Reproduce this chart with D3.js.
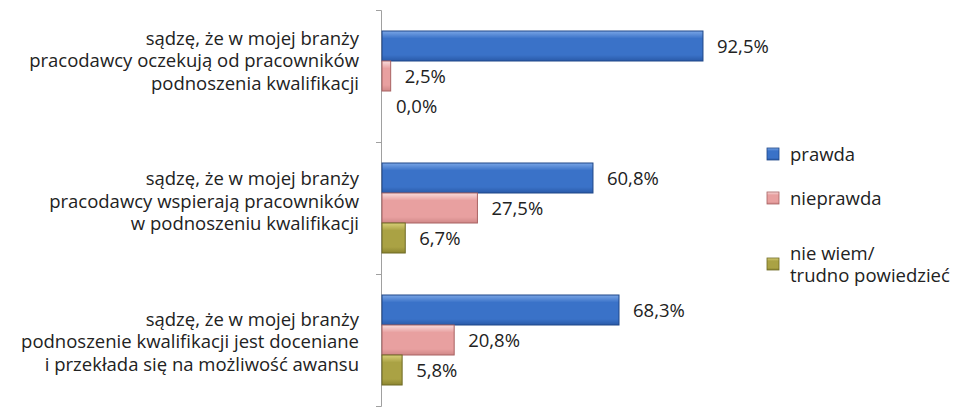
<!DOCTYPE html>
<html>
<head>
<meta charset="utf-8">
<script src="https://cdn.jsdelivr.net/npm/d3@7"></script>
<style>
  body { margin: 0; background: #fff; }
  text { font-family: "Open Sans", "Noto Sans", sans-serif; fill: #222; }
</style>
</head>
<body>
<div id="chart"></div>
<script>
// data
const categories = [
  'sądzę, że w mojej branży\npracodawcy oczekują od pracowników\npodnoszenia kwalifikacji',
  'sądzę, że w mojej branży\npracodawcy wspierają pracowników\nw podnoszeniu kwalifikacji',
  'sądzę, że w mojej branży\npodnoszenie kwalifikacji jest doceniane\ni przekłada się na możliwość awansu'
];
const seriesNames = ['prawda', 'nieprawda', 'nie wiem/\ntrudno powiedzieć'];
const prawda = [92.5, 60.8, 68.3];
const nieprawda = [2.5, 27.5, 20.8];
const nieWiem = [0.0, 6.7, 5.8];

document.addEventListener('DOMContentLoaded', function(){
  drawChart();
});

function drawChart() {
  const svg = d3.select('#chart').append('svg').attr('width', 960).attr('height', 407);
  const values = [prawda, nieprawda, nieWiem];
  const colors = [
    {top: '#7aa6e6', mid: '#3a72c8', bot: '#2a5aa8', stroke: '#1f4788'},
    {top: '#f8dcdc', mid: '#e8a0a0', bot: '#d08888', stroke: '#a86262'},
    {top: '#d8cf78', mid: '#aaa244', bot: '#8c8530', stroke: '#6e6a24'}
  ];
  const fontSize = '18.5px';

  const defs = svg.append('defs');
  colors.forEach(function(c, i) {
    let g = defs.append('linearGradient').attr('id', 'grad' + i)
      .attr('x1', 0).attr('y1', 0).attr('x2', 0).attr('y2', 1);
    g.append('stop').attr('offset', '0%').attr('stop-color', c.top);
    g.append('stop').attr('offset', '25%').attr('stop-color', c.mid);
    g.append('stop').attr('offset', '80%').attr('stop-color', c.mid);
    g.append('stop').attr('offset', '100%').attr('stop-color', c.bot);
  });

  const x = d3.scaleLinear().domain([0, 100]).range([382, 729]);
  const y = d3.scaleBand().domain(d3.range(categories.length)).range([10, 406]);
  const yInner = d3.scaleBand().domain(d3.range(seriesNames.length))
    .range([0, y.bandwidth()]).paddingOuter(0.7);
  // the category texts sit a little apart from the bands in the original
  const yLabel = d3.scalePoint().domain(d3.range(categories.length)).range([60, 341]);

  // axis with ticks at band edges
  const axisY = d3.scaleLinear().domain([0, categories.length]).range([10, 406]);
  const axis = svg.append('g').attr('transform', 'translate(381,0)')
    .call(d3.axisLeft(axisY).ticks(3).tickSize(5).tickFormat(''));
  axis.select('.domain').attr('stroke', '#a0a0a0');
  axis.selectAll('.tick line').attr('stroke', '#a0a0a0');

  // category labels
  categories.forEach(function(cat, i) {
    let lines = cat.split('\n');
    let t = svg.append('text').attr('text-anchor', 'end').style('font-size', fontSize);
    lines.forEach(function(l, j) {
      t.append('tspan').attr('x', 359)
        .attr('y', yLabel(i) + (j - (lines.length - 1) / 2) * 22.5 + 7)
        .text(l);
    });
  });

  // bars + value labels
  values.forEach(function(series, s) {
    let g = svg.append('g');
    g.selectAll('rect').data(series).enter().append('rect')
      .attr('x', x(0))
      .attr('y', function(d, i) { return y(i) + yInner(s); })
      .attr('width', function(d) { return Math.max(0, x(d) - x(0)); })
      .attr('height', yInner.bandwidth())
      .attr('fill', 'url(#grad' + s + ')')
      .attr('stroke', colors[s].stroke)
      .attr('stroke-width', function(d) { return d > 0 ? 1 : 0; });
    g.selectAll('text').data(series).enter().append('text')
      .attr('x', function(d) { return x(d) + 14; })
      .attr('y', function(d, i) { return y(i) + yInner(s) + yInner.bandwidth() / 2 + 7; })
      .style('font-size', fontSize)
      .text(function(d) { return d3.format('.1f')(d).replace('.', ',') + '%'; });
  });

  // legend
  const legendY = [154, 198, 264];
  seriesNames.forEach(function(name, i) {
    let lg = svg.append('g').attr('transform', 'translate(767,' + legendY[i] + ')');
    lg.append('rect').attr('x', 0).attr('y', -6).attr('width', 12).attr('height', 12)
      .attr('fill', 'url(#grad' + i + ')').attr('stroke', colors[i].stroke).attr('stroke-width', 0.8);
    let lines = name.split('\n');
    let t = lg.append('text').style('font-size', fontSize);
    lines.forEach(function(l, j) {
      t.append('tspan').attr('x', 23)
        .attr('y', (j - (lines.length - 1) / 2) * 22 + 7)
        .text(l);
    });
  });
}
</script>
</body>
</html>
